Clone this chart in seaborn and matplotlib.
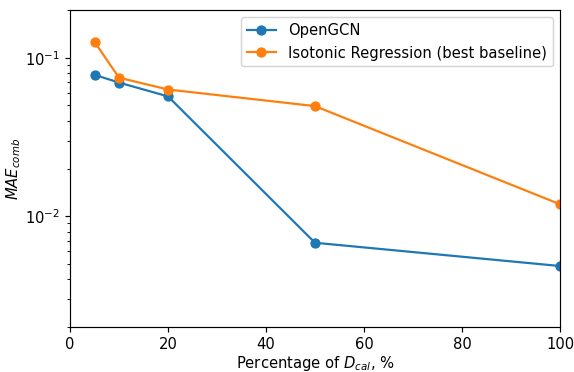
import matplotlib
matplotlib.use("Agg")
import matplotlib.pyplot as plt
import seaborn as sns
import pandas as pd

pct = [5, 10, 20, 50, 100]
opengcn = [0.078, 0.0697, 0.057, 0.0068, 0.00485]
isotonic = [0.126, 0.0748, 0.063, 0.0495, 0.0119]
labels = ["OpenGCN", "Isotonic Regression (best baseline)"]

df = pd.DataFrame({
    "pct": pct * 2,
    "mae": opengcn + isotonic,
    "method": [labels[0]] * len(pct) + [labels[1]] * len(pct),
})

DPI = 106
fig = plt.figure(figsize=(574 / DPI, 372 / DPI), dpi=DPI)
ax = fig.add_axes([70 / 574, 1 - 327 / 372, 490 / 574, 317 / 372])
sns.lineplot(data=df, x="pct", y="mae", hue="method", marker="o", markersize=7,
             markeredgewidth=0, palette=["#1f77b4", "#ff7f0e"], ax=ax, linewidth=1.5)
ax.set_yscale("log")
ax.set_xlim(0, 100)
ax.set_ylim(0.002, 0.2)
ax.set_xlabel("Percentage of $D_{cal}$, %", labelpad=1)
ax.set_ylabel("$MAE_{comb}$", labelpad=1)
ax.legend(title=None, loc="upper right")
fig.savefig("out.png", dpi=DPI)
